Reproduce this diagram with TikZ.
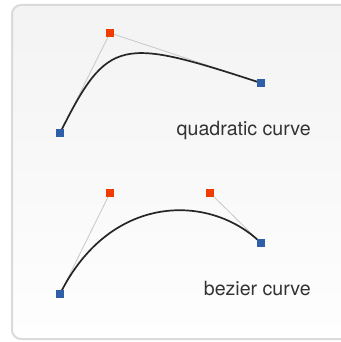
\documentclass[tikz,border=0pt]{standalone}
\usepackage{fontspec}
\setmainfont{TeX Gyre Heros}
\begin{document}
\begin{tikzpicture}[x=1pt,y=-1pt,
  ctrl/.style={fill=ctrlred,minimum size=8pt,inner sep=0pt,outer sep=0pt},
  endp/.style={fill=endblue,minimum size=8pt,inner sep=0pt,outer sep=0pt},
  guide/.style={draw=guidegray,line width=0.8pt},
  curve/.style={draw=black!85,line width=1.7pt},
  lbl/.style={inner sep=0pt,anchor=base east,text=black!80,font=\fontsize{19.6}{22}\selectfont}]
\definecolor{ctrlred}{HTML}{F03C00}
\definecolor{endblue}{HTML}{2F5FA8}
\definecolor{guidegray}{HTML}{C8C8C8}
\definecolor{boxtop}{HTML}{F3F3F3}
\definecolor{boxbot}{HTML}{FEFEFE}
\definecolor{boxline}{HTML}{DADADA}
\useasboundingbox (0,0) rectangle (340,342);
\shade[top color=boxtop,bottom color=boxbot,draw=boxline,line width=2pt,rounded corners=9pt]
  (12,5) rectangle (352,339);
% quadratic
\coordinate (qa) at (60,133);
\coordinate (qc) at (110,33);
\coordinate (qb) at (261,83);
\draw[guide] (qa) -- (qc) -- (qb);
\draw[curve] (qa) .. controls (108,37) and (120,37) .. (qb);
\node[endp] (nqa) at (qa) {};
\node[ctrl] (nqc) at (qc) {};
\node[endp] (nqb) at (qb) {};
\node[lbl] (lq) at (311,135) {quadratic curve};
% bezier
\coordinate (ba) at (60,294);
\coordinate (bc1) at (110,193);
\coordinate (bc2) at (210,193);
\coordinate (bb) at (261,243);
\draw[guide] (ba) -- (bc1);
\draw[guide] (bc2) -- (bb);
\draw[curve] (ba) .. controls (bc1) and (bc2) .. (bb);
\node[endp] (nba) at (ba) {};
\node[ctrl] (nbc1) at (bc1) {};
\node[ctrl] (nbc2) at (bc2) {};
\node[endp] (nbb) at (bb) {};
\node[lbl] (lb) at (311,295) {bezier curve};
\end{tikzpicture}
\end{document}
